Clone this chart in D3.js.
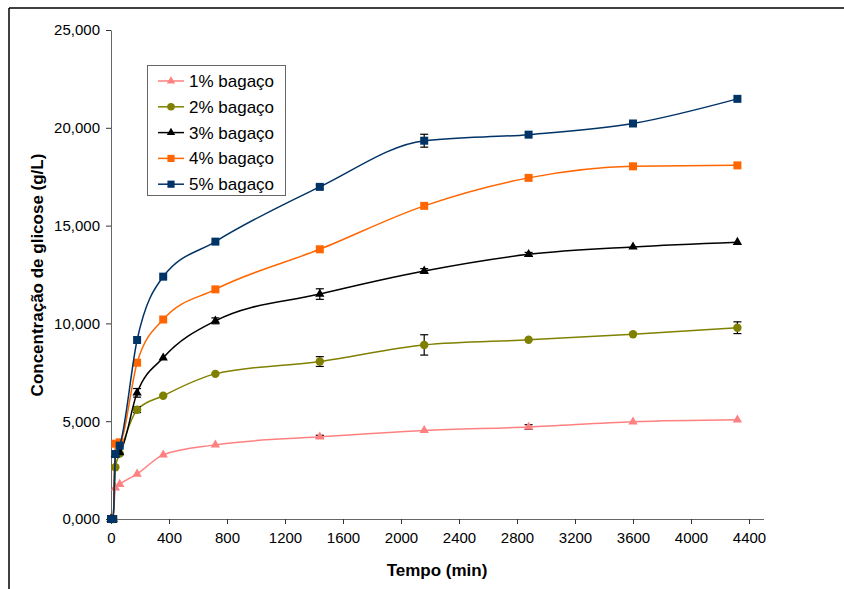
<!DOCTYPE html>
<html>
<head>
<meta charset="utf-8">
<script src="https://cdn.jsdelivr.net/npm/d3@7"></script>
<style>
  body { margin: 0; background: #fff; }
  text { font-family: Arial, "Liberation Sans", sans-serif; }
</style>
</head>
<body>
<div id="chart"></div>
<script>
// tempo (min) e glicose (g/L)
var times = [0, 15, 30, 60, 180, 360, 720, 1440, 2160, 2880, 3600, 4320];
var names = ["1% bagaço", "2% bagaço", "3% bagaço", "4% bagaço", "5% bagaço"];
var b1 = [0, 0, 1.60, 1.78, 2.30, 3.28, 3.79, 4.20, 4.53, 4.70, 4.97, 5.07];
var b2 = [0, 0, 2.65, 3.35, 5.59, 6.30, 7.42, 8.05, 8.90, 9.16, 9.45, 9.78];
var b3 = [0, 0, 3.30, 3.40, 6.45, 8.24, 10.13, 11.50, 12.68, 13.53, 13.91, 14.15];
var b4 = [0, 0, 3.85, 3.92, 7.99, 10.20, 11.74, 13.79, 16.01, 17.44, 18.03, 18.08];
var b5 = [0, 0, 3.32, 3.75, 9.15, 12.39, 14.18, 16.98, 19.34, 19.65, 20.22, 21.48];
// desvio (barras de erro)
var e1 = [0, 0, 0, 0, 0, 0, 0, 0.08, 0, 0.12, 0, 0];
var e2 = [0, 0, 0, 0, 0.15, 0, 0, 0.25, 0.52, 0, 0, 0.30];
var e3 = [0, 0, 0, 0, 0.22, 0, 0.15, 0.27, 0.12, 0.10, 0, 0];
var e4 = [0, 0, 0, 0, 0, 0, 0, 0, 0, 0, 0, 0];
var e5 = [0, 0, 0, 0, 0, 0, 0, 0.10, 0.33, 0, 0, 0];
var xTicks = [0, 400, 800, 1200, 1600, 2000, 2400, 2800, 3200, 3600, 4000, 4400];
var yTicks = [0, 5, 10, 15, 20, 25];

var colors = ["#FF8080", "#808000", "#000000", "#FF6600", "#003366"];
var shapes = [d3.symbolTriangle, d3.symbolCircle, d3.symbolTriangle, d3.symbolSquare, d3.symbolSquare];
var sizes = [38, 56, 38, 64, 64];

var series = [b1, b2, b3, b4, b5].map(function(vals, i) {
  var errs = [e1, e2, e3, e4, e5][i];
  return {
    name: names[i], color: colors[i], shape: shapes[i], size: sizes[i],
    pts: vals.map(function(v, j) { return {t: times[j], v: v, e: errs[j]}; })
  };
});

var W = 844, H = 589;
var svg = d3.select("#chart").append("svg").attr("width", W).attr("height", H);

// moldura (só topo e esquerda aparecem)
svg.append("line").attr("x1", 9).attr("y1", 8).attr("x2", W).attr("y2", 8)
  .attr("stroke", "#000").attr("stroke-width", 1.5);
svg.append("line").attr("x1", 9).attr("y1", 8).attr("x2", 9).attr("y2", H)
  .attr("stroke", "#000").attr("stroke-width", 1.5);

var x = d3.scaleLinear().domain([0, 4500]).range([111, 763.5]);
var y = d3.scaleLinear().domain([0, 25]).range([519, 30]);

var ptbr = d3.formatLocale({decimal: ",", thousands: ".", grouping: [3], currency: ["R$", ""]});
var fmtY = ptbr.format(".3f");

var xAxis = svg.append("g").attr("transform", "translate(0,519)")
  .call(d3.axisBottom(x).tickValues(xTicks).tickSize(5).tickSizeOuter(0).tickPadding(8).tickFormat(d3.format("d")));
var yAxis = svg.append("g").attr("transform", "translate(111,0)")
  .call(d3.axisLeft(y).tickValues(yTicks).tickSize(5).tickSizeOuter(0).tickPadding(6).tickFormat(fmtY));

[xAxis, yAxis].forEach(function(a) {
  a.select(".domain").attr("stroke", "#666");
  a.selectAll(".tick line").attr("stroke", "#333");
  a.selectAll(".tick text").attr("font-size", 15).attr("fill", "#000")
    .attr("font-family", "Arial, 'Liberation Sans', sans-serif");
});

svg.append("text").attr("x", 437).attr("y", 576).attr("text-anchor", "middle")
  .attr("font-size", 17).attr("font-weight", "bold").text("Tempo (min)");
svg.append("text").attr("transform", "translate(43,275) rotate(-90)").attr("text-anchor", "middle")
  .attr("font-size", 17).attr("font-weight", "bold").text("Concentração de glicose (g/L)");

var line = d3.line()
  .x(function(d) { return x(d.t); })
  .y(function(d) { return y(d.v); })
  .curve(d3.curveMonotoneX);

var g = svg.selectAll("g.serie").data(series).enter().append("g").attr("class", "serie");

g.append("path")
  .attr("d", function(d) { return line(d.pts); })
  .attr("fill", "none")
  .attr("stroke", function(d) { return d.color; })
  .attr("stroke-width", 1.5);

// barras de erro
g.each(function(s) {
  var eb = d3.select(this).selectAll("g.err")
    .data(s.pts.filter(function(p) { return p.e > 0; }))
    .enter().append("g").attr("class", "err").attr("stroke", "#000").attr("stroke-width", 1.2);
  eb.append("line")
    .attr("x1", function(p) { return x(p.t); }).attr("x2", function(p) { return x(p.t); })
    .attr("y1", function(p) { return y(p.v + p.e); }).attr("y2", function(p) { return y(p.v - p.e); });
  eb.append("line")
    .attr("x1", function(p) { return x(p.t) - 4; }).attr("x2", function(p) { return x(p.t) + 4; })
    .attr("y1", function(p) { return y(p.v + p.e); }).attr("y2", function(p) { return y(p.v + p.e); });
  eb.append("line")
    .attr("x1", function(p) { return x(p.t) - 4; }).attr("x2", function(p) { return x(p.t) + 4; })
    .attr("y1", function(p) { return y(p.v - p.e); }).attr("y2", function(p) { return y(p.v - p.e); });
});

g.each(function(s) {
  d3.select(this).selectAll("path.mk").data(s.pts).enter().append("path")
    .attr("class", "mk")
    .attr("d", d3.symbol().type(s.shape).size(s.size))
    .attr("transform", function(p) { return "translate(" + x(p.t) + "," + y(p.v) + ")"; })
    .attr("fill", s.color);
});

// legenda
var leg = svg.append("g");
leg.append("rect").attr("x", 147.5).attr("y", 65.5).attr("width", 138).attr("height", 130)
  .attr("fill", "#fff").attr("stroke", "#666").attr("stroke-width", 1);
var li = leg.selectAll("g.li").data(series).enter().append("g").attr("class", "li")
  .attr("transform", function(d, i) { return "translate(0," + (81 + i * 25.8) + ")"; });
li.append("line").attr("x1", 158).attr("x2", 184).attr("y1", 0).attr("y2", 0)
  .attr("stroke", function(d) { return d.color; }).attr("stroke-width", 1.5);
li.append("path")
  .attr("d", function(d) { return d3.symbol().type(d.shape).size(d.size * 0.8)(); })
  .attr("transform", "translate(171,0)")
  .attr("fill", function(d) { return d.color; });
li.append("text").attr("x", 189).attr("y", 6).attr("font-size", 17)
  .text(function(d) { return d.name; });
</script>
</body>
</html>
